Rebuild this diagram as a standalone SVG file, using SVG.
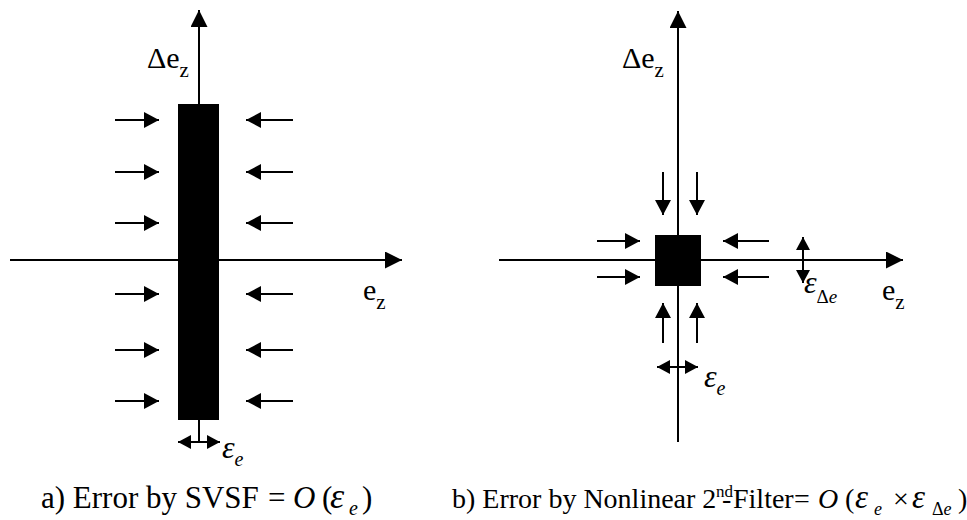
<svg xmlns="http://www.w3.org/2000/svg" width="967" height="520" viewBox="0 0 967 520">
<defs>
<marker id="ah" viewBox="0 0 15 16" markerWidth="15" markerHeight="16" refX="15" refY="8" orient="auto" markerUnits="userSpaceOnUse"><path d="M0,0 L15,8 L0,16 z" fill="#000"/></marker>
<marker id="big" viewBox="0 0 17 17" markerWidth="17" markerHeight="17" refX="17" refY="8.5" orient="auto" markerUnits="userSpaceOnUse"><path d="M0,0 L17,8.5 L0,17 z" fill="#000"/></marker>
<marker id="ah2" viewBox="0 0 13 14" markerWidth="13" markerHeight="14" refX="13" refY="7" orient="auto" markerUnits="userSpaceOnUse"><path d="M0,0 L13,7 L0,14 z" fill="#000"/></marker>
<marker id="ah2s" viewBox="0 0 13 14" markerWidth="13" markerHeight="14" refX="13" refY="7" orient="auto-start-reverse" markerUnits="userSpaceOnUse"><path d="M0,0 L13,7 L0,14 z" fill="#000"/></marker>
</defs>

<g id="panel-a">
<g id="a-region"><rect x="178" y="104" width="41" height="316" fill="#000"/></g>
<g id="a-axes" stroke="#000" stroke-width="2" fill="none">
<line marker-end="url(#big)" x1="199" y1="104" x2="199" y2="10"/>
<line marker-end="url(#big)" x1="10" y1="260" x2="402" y2="260"/>
</g>
<g id="a-connectors" stroke="#000" stroke-width="2" fill="none">
<line marker-end="url(#ah)" x1="115" y1="120" x2="159" y2="120"/>
<line marker-end="url(#ah)" x1="115" y1="172" x2="159" y2="172"/>
<line marker-end="url(#ah)" x1="115" y1="223" x2="159" y2="223"/>
<line marker-end="url(#ah)" x1="115" y1="294" x2="159" y2="294"/>
<line marker-end="url(#ah)" x1="115" y1="350" x2="159" y2="350"/>
<line marker-end="url(#ah)" x1="115" y1="401" x2="159" y2="401"/>
<line marker-end="url(#ah)" x1="293" y1="120" x2="246" y2="120"/>
<line marker-end="url(#ah)" x1="293" y1="172" x2="246" y2="172"/>
<line marker-end="url(#ah)" x1="293" y1="223" x2="246" y2="223"/>
<line marker-end="url(#ah)" x1="293" y1="294" x2="246" y2="294"/>
<line marker-end="url(#ah)" x1="293" y1="350" x2="246" y2="350"/>
<line marker-end="url(#ah)" x1="293" y1="401" x2="246" y2="401"/>
<line x1="199" y1="420" x2="199" y2="442"/>
<line marker-start="url(#ah2s)" marker-end="url(#ah2)" x1="178" y1="442" x2="220" y2="442"/>
</g>
<g id="a-labels">
<text font-family="Liberation Serif" x="147" y="68" font-size="30">Δe<tspan font-family="Liberation Serif" font-size="21" dy="9">z</tspan></text>
<text font-family="Liberation Serif" x="363" y="300" font-size="30">e<tspan font-family="Liberation Serif" font-size="21" dy="9">z</tspan></text>
<text font-family="Liberation Serif" font-style="italic" x="222" y="458" font-size="32">ε<tspan font-family="Liberation Serif" font-size="20" dy="8">e</tspan></text>
</g>
</g>

<g id="panel-b">
<g id="b-region"><rect x="655" y="235" width="46" height="51" fill="#000"/></g>
<g id="b-axes" stroke="#000" stroke-width="2" fill="none">
<line marker-end="url(#big)" x1="678" y1="442" x2="678" y2="11"/>
<line marker-end="url(#big)" x1="499" y1="260" x2="903" y2="260"/>
</g>
<g id="b-connectors" stroke="#000" stroke-width="2" fill="none">
<line marker-end="url(#ah)" x1="597" y1="241" x2="640" y2="241"/>
<line marker-end="url(#ah)" x1="597" y1="277" x2="640" y2="277"/>
<line marker-end="url(#ah)" x1="769" y1="241" x2="723" y2="241"/>
<line marker-end="url(#ah)" x1="769" y1="277" x2="723" y2="277"/>
<line marker-end="url(#ah)" x1="663" y1="172" x2="663" y2="215"/>
<line marker-end="url(#ah)" x1="697" y1="172" x2="697" y2="215"/>
<line marker-end="url(#ah)" x1="663" y1="343" x2="663" y2="303"/>
<line marker-end="url(#ah)" x1="697" y1="343" x2="697" y2="303"/>
<line marker-start="url(#ah2s)" marker-end="url(#ah2)" x1="657" y1="367" x2="698" y2="367"/>
<line marker-start="url(#ah2s)" marker-end="url(#ah2)" x1="803" y1="237" x2="803" y2="283"/>
</g>
<g id="b-labels">
<text font-family="Liberation Serif" x="622" y="68" font-size="30">Δe<tspan font-family="Liberation Serif" font-size="21" dy="9">z</tspan></text>
<text font-family="Liberation Serif" x="882" y="300" font-size="30">e<tspan font-family="Liberation Serif" font-size="21" dy="9">z</tspan></text>
<text font-family="Liberation Serif" font-style="italic" x="704" y="387" font-size="32">ε<tspan font-family="Liberation Serif" font-size="20" dy="8">e</tspan></text>
<text font-family="Liberation Serif" font-style="italic" x="804" y="293" font-size="32">ε<tspan font-family="Liberation Serif" font-size="19" dy="10" font-style="normal">Δ</tspan><tspan font-family="Liberation Serif" font-size="19">e</tspan></text>
</g>
</g>

<g id="captions">
<text font-family="Liberation Serif" x="41" y="508" font-size="31">a) Error by SVSF<tspan x="268">=</tspan><tspan font-style="italic" x="293">O</tspan><tspan x="322">(</tspan><tspan font-style="italic" font-size="36" x="330">ε</tspan><tspan font-style="italic" font-size="20" x="349" dy="7">e</tspan><tspan x="362" dy="-7">)</tspan></text>
<text font-family="Liberation Serif" x="452" y="508" font-size="28">b) Error by Nonlinear 2<tspan font-size="17" x="716" dy="-11">nd</tspan><tspan x="722" dy="11">-</tspan><tspan x="733">Filter</tspan><tspan x="794">=</tspan><tspan font-style="italic" x="818">O</tspan><tspan x="845">(</tspan><tspan font-style="italic" font-size="33" x="855">ε</tspan><tspan font-style="italic" font-size="18" x="874" dy="7">e</tspan><tspan x="893" dy="-7">×</tspan><tspan font-style="italic" font-size="33" x="912">ε</tspan><tspan font-size="18" x="932" dy="7">Δ</tspan><tspan font-style="italic" font-size="18">e</tspan><tspan x="958" dy="-7">)</tspan></text>
</g>
</svg>
